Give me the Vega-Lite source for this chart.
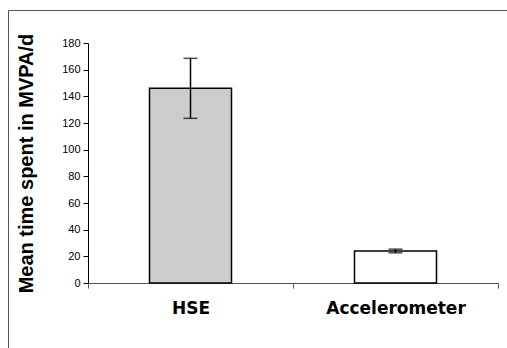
{
  "$schema": "https://vega.github.io/schema/vega-lite/v6.json",
  "autosize": {"type": "none"},
  "padding": {"left": 8, "top": 10, "right": 0, "bottom": 0},
  "width": 499,
  "height": 338,
  "background": "white",
  "config": {
    "view": {"stroke": "#555555", "strokeWidth": 1},
    "font": "Liberation Sans",
    "axisY": {
      "values": [0, 20, 40, 60, 80, 100, 120, 140, 160, 180],
      "labelOverlap": false,
      "offset": -80,
      "grid": false,
      "tickSize": 5,
      "tickColor": "black",
      "domainColor": "black",
      "labelFontSize": 11,
      "labelColor": "black",
      "labelPadding": 3,
      "titleFontSize": 20,
      "titleFontWeight": "bold",
      "titleColor": "black",
      "titlePadding": 25
    }
  },
  "data": {
    "values": [
      {"method": "HSE", "mean": 146, "lo": 123.5, "hi": 168.5},
      {"method": "Accelerometer", "mean": 24, "lo": 22.6, "hi": 25.4}
    ]
  },
  "encoding": {
    "x": {
      "field": "method",
      "type": "nominal",
      "sort": null,
      "scale": {"range": [80, 490], "paddingInner": 0, "paddingOuter": 0},
      "axis": {
        "title": null,
        "orient": "bottom",
        "offset": -65,
        "labelAngle": 0,
        "tickBand": "extent",
        "tickSize": 5,
        "tickColor": "#555555",
        "domainColor": "#555555",
        "labelFont": "DejaVu Sans",
        "labelFontWeight": "bold",
        "labelFontSize": 17,
        "labelColor": "black",
        "labelPadding": 12,
        "grid": false
      }
    }
  },
  "layer": [
    {
      "mark": {"type": "bar", "width": {"band": 0.4}, "stroke": "black", "strokeWidth": 1.5},
      "encoding": {
        "y": {
          "field": "mean",
          "type": "quantitative",
          "title": "Mean time spent in MVPA/d",
          "scale": {"domain": [0, 180], "range": [273, 33], "nice": false, "zero": true},
          "axis": {"values": [0, 20, 40, 60, 80, 100, 120, 140, 160, 180]}
        },
        "color": {
          "field": "method",
          "type": "nominal",
          "scale": {"domain": ["HSE", "Accelerometer"], "range": ["#cccccc", "#ffffff"]},
          "legend": null
        }
      }
    },
    {
      "mark": {"type": "rule", "color": "black", "strokeWidth": 1.5},
      "encoding": {
        "y": {"field": "lo", "type": "quantitative", "title": "Mean time spent in MVPA/d", "axis": {"values": [0, 20, 40, 60, 80, 100, 120, 140, 160, 180]}},
        "y2": {"field": "hi"}
      }
    },
    {
      "mark": {"type": "tick", "color": "black", "size": 14, "thickness": 1.5, "orient": "horizontal"},
      "encoding": {
        "y": {"field": "lo", "type": "quantitative", "title": "Mean time spent in MVPA/d", "axis": {"values": [0, 20, 40, 60, 80, 100, 120, 140, 160, 180]}}
      }
    },
    {
      "mark": {"type": "tick", "color": "black", "size": 14, "thickness": 1.5, "orient": "horizontal"},
      "encoding": {
        "y": {"field": "hi", "type": "quantitative", "title": "Mean time spent in MVPA/d", "axis": {"values": [0, 20, 40, 60, 80, 100, 120, 140, 160, 180]}}
      }
    }
  ]
}
